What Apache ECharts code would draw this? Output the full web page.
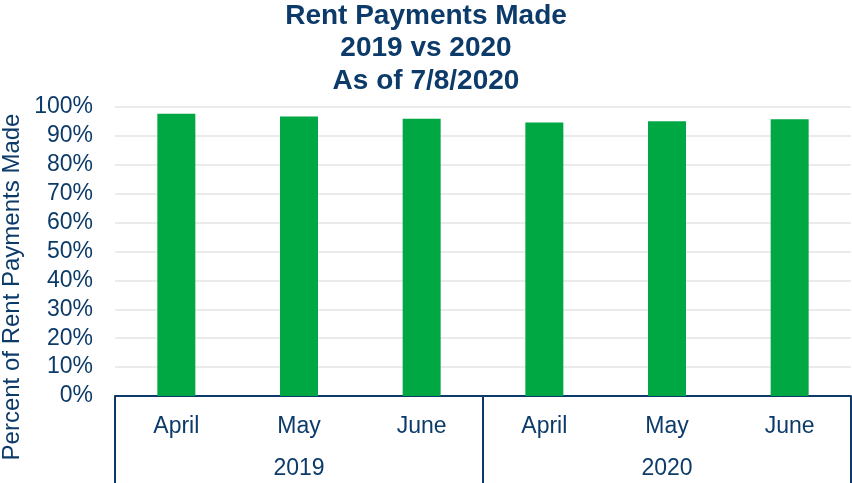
<!DOCTYPE html>
<html>
<head>
<meta charset="utf-8">
<script src="https://cdn.jsdelivr.net/npm/echarts@6/dist/echarts.min.js"></script>
<style>
  html, body { margin: 0; padding: 0; background: #ffffff; }
  #chart { width: 852px; height: 483px; }
</style>
</head>
<body>
<div id="chart"></div>
<script>
// Month-by-month share of rent payments made, grouped by year
const months = ['April', 'May', 'June', 'April', 'May', 'June'];
const years = ['2019', '2020'];
const paidShare = [0.977, 0.967, 0.959, 0.946, 0.951, 0.958];
const yTicks = { min: 0, max: 1, step: 0.1 };

const FONT = 'Arial, "Liberation Sans", sans-serif';
const NAVY = '#0C3B69';
const GREEN = '#00A843';

const chart = echarts.init(document.getElementById('chart'), null, { renderer: 'canvas' });

chart.setOption({
  animation: false,
  backgroundColor: '#ffffff',
  title: {
    text: 'Rent Payments Made\n2019 vs 2020\nAs of 7/8/2020',
    left: 'center',
    top: 0,
    padding: 0,
    textStyle: {
      fontFamily: FONT,
      fontSize: 28,
      fontWeight: 'bold',
      color: NAVY,
      lineHeight: 32.5
    }
  },
  grid: { left: 115, right: 1, top: 107, bottom: 87, containLabel: false },
  xAxis: [
    {
      type: 'category',
      data: months,
      position: 'bottom',
      axisLine: { show: true, lineStyle: { color: NAVY, width: 2 } },
      axisTick: { show: false },
      axisLabel: { fontFamily: FONT, fontSize: 23, color: NAVY, margin: 19 },
      splitLine: { show: false }
    },
    {
      type: 'category',
      data: years,
      position: 'bottom',
      offset: 0,
      axisLine: { show: false },
      axisTick: { show: true, length: 90, lineStyle: { color: NAVY, width: 2 } },
      axisLabel: { fontFamily: FONT, fontSize: 23, color: NAVY, margin: 61 },
      splitLine: { show: false }
    }
  ],
  yAxis: {
    type: 'value',
    min: yTicks.min,
    max: yTicks.max,
    interval: yTicks.step,
    axisLine: { show: false },
    axisTick: { show: false },
    axisLabel: {
      fontFamily: FONT,
      fontSize: 23,
      color: NAVY,
      margin: 22,
      formatter: v => Math.round(v * 100) + '%'
    },
    splitLine: { show: true, lineStyle: { color: '#EBEBEB', width: 2 } }
  },
  graphic: [
    {
      type: 'text',
      x: 12,
      y: 287,
      rotation: Math.PI / 2,
      style: {
        text: 'Percent of Rent Payments Made',
        fontFamily: FONT,
        fontSize: 24,
        fill: NAVY,
        align: 'center',
        verticalAlign: 'middle'
      }
    }
  ],
  series: [
    {
      type: 'bar',
      xAxisIndex: 0,
      data: paidShare,
      barWidth: 38,
      itemStyle: { color: GREEN },
      silent: true
    }
  ]
});
</script>
</body>
</html>
